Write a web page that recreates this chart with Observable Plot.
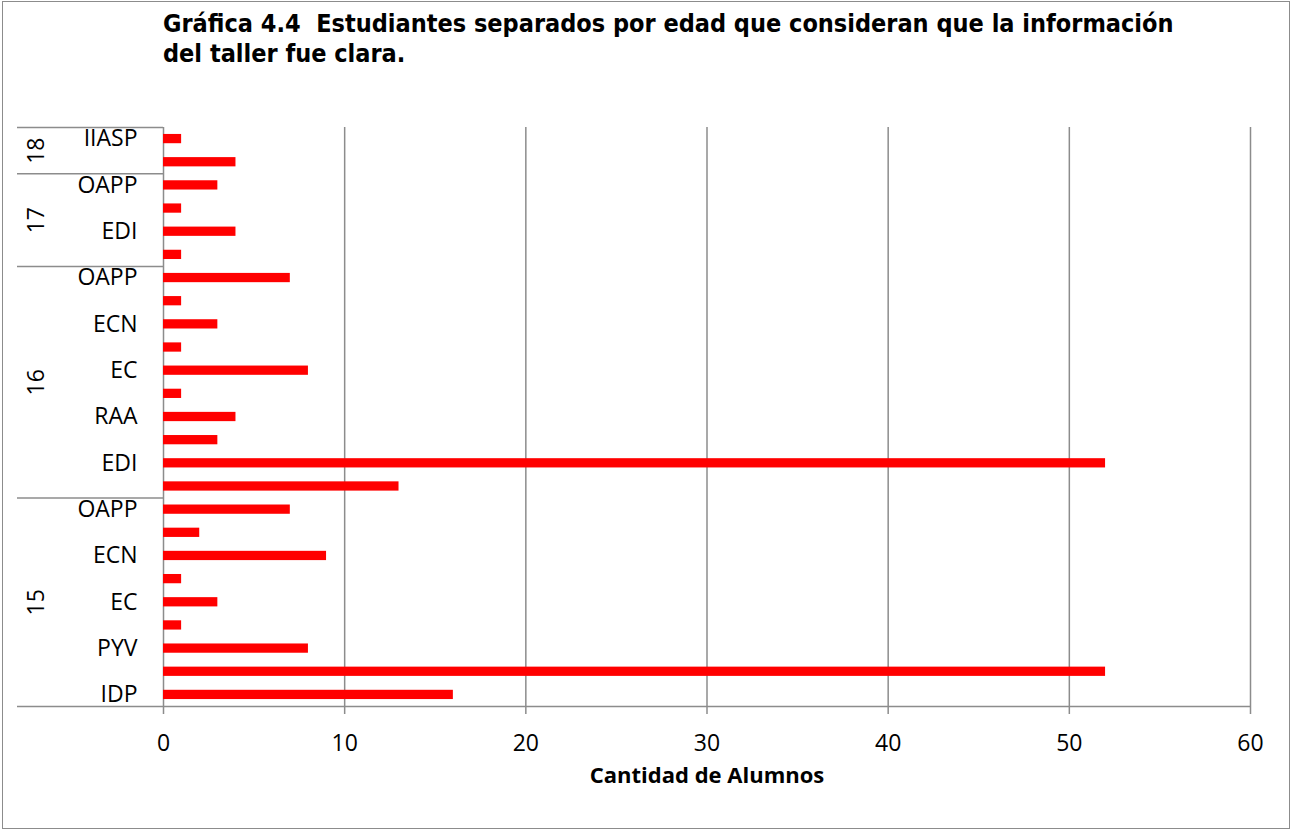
<!DOCTYPE html>
<html><head><meta charset="utf-8">
<script src="https://cdn.jsdelivr.net/npm/d3@7"></script>
<script src="https://cdn.jsdelivr.net/npm/@observablehq/plot@0.6"></script>
<style>
body{margin:0;background:#fff;}
#wrap{position:relative;width:1291px;height:830px;overflow:hidden;}
#frame{position:absolute;left:2px;top:1px;width:1288px;height:828px;border:1.5px solid #8c8c8c;box-sizing:border-box;}
#title{position:absolute;left:163px;top:9px;font-family:"Liberation Sans Narrow","Arial Narrow","DejaVu Sans Condensed",sans-serif;font-weight:bold;font-size:25px;line-height:30px;color:#000;white-space:nowrap;}
#chart{position:absolute;left:0;top:0;}
</style></head>
<body>
<div id="wrap">
  <div id="frame"></div>
  <div id="chart"></div>
  <div id="title">Gráfica 4.4&nbsp; Estudiantes separados por edad que consideran que la información<br>del taller fue clara.</div>
</div>
<script>
// Data, bottom to top
const groups = ["15", "16", "17", "18"];
const groupSizes = [9, 10, 4, 2];
const programs = ["IDP","","PYV","","EC","","ECN","","OAPP",
                  "","EDI","","RAA","","EC","","ECN","","OAPP",
                  "","EDI","","OAPP",
                  "","IIASP"];
const alumnos = [16,52,8,1,3,1,9,2,7,
                 13,52,3,4,1,8,1,3,1,7,
                 1,4,1,3,
                 4,1];
const xTicks = [0, 10, 20, 30, 40, 50, 60];
const xLabel = "Cantidad de Alumnos";

const W = 1291, H = 830, mL = 163, mR = 41, mT = 127, mB = 124;
const pI = 0.6, pO = 0.3;
const gridColor = "#8c8c8c";

const rows = [];
let gi = 0, cnt = 0;
programs.forEach((p, i) => {
  rows.push({id: String(i), program: p, alumnos: alumnos[i], edad: groups[gi]});
  cnt++;
  if (cnt === groupSizes[gi]) { gi++; cnt = 0; }
});
const ids = rows.map(d => d.id);
const n = ids.length;
const step = (H - mT - mB) / (n - pI + 2 * pO);

const groupInfo = [];
let start = 0;
groups.forEach((g, k) => {
  const size = groupSizes[k];
  const odd = size % 2 === 1;
  groupInfo.push({
    edad: g,
    topId: String(start + size - 1),
    centerId: String(odd ? start + (size - 1) / 2 : start + size / 2),
    odd
  });
  start += size;
});

const chart = Plot.plot({
  width: W, height: H,
  marginLeft: mL, marginRight: mR, marginTop: mT, marginBottom: mB,
  style: {fontFamily: "'Open Sans', sans-serif", fontSize: "23px", color: "#000", background: "transparent", overflow: "visible"},
  x: {domain: [0, 60], ticks: xTicks, tickSize: 0, tickPadding: 28, label: null},
  y: {domain: ids.slice().reverse(), paddingInner: pI, paddingOuter: pO, round: false,
      tickSize: 0, tickPadding: 26, tickFormat: id => rows[+id].program, label: null},
  marks: [
    Plot.ruleX(xTicks, {stroke: gridColor, strokeWidth: 1.5, insetBottom: -8}),
    Plot.barX(rows, {x: "alumnos", y: "id", fill: "#ff0000"}),
    Plot.ruleY(groupInfo, {y: "topId", x1: 0, x2: 0, insetLeft: -146, dy: -step / 2, stroke: gridColor, strokeWidth: 1.5}),
    Plot.ruleY([ids[0]], {y: d => d, x1: 0, x2: 60, insetLeft: -146, dy: step / 2, stroke: gridColor, strokeWidth: 1.5}),
    Plot.text(groupInfo.filter(d => d.odd), {y: "centerId", text: "edad", frameAnchor: "left", dx: -127, rotate: -90, textAnchor: "middle", lineAnchor: "middle"}),
    Plot.text(groupInfo.filter(d => !d.odd), {y: "centerId", text: "edad", frameAnchor: "left", dx: -127, dy: step / 2, rotate: -90, textAnchor: "middle", lineAnchor: "middle"}),
    Plot.text([xLabel], {frameAnchor: "bottom", dy: 69, fontWeight: "bold", fontSize: 22, lineAnchor: "middle"})
  ]
});
document.getElementById("chart").appendChild(chart);
</script>
</body></html>
